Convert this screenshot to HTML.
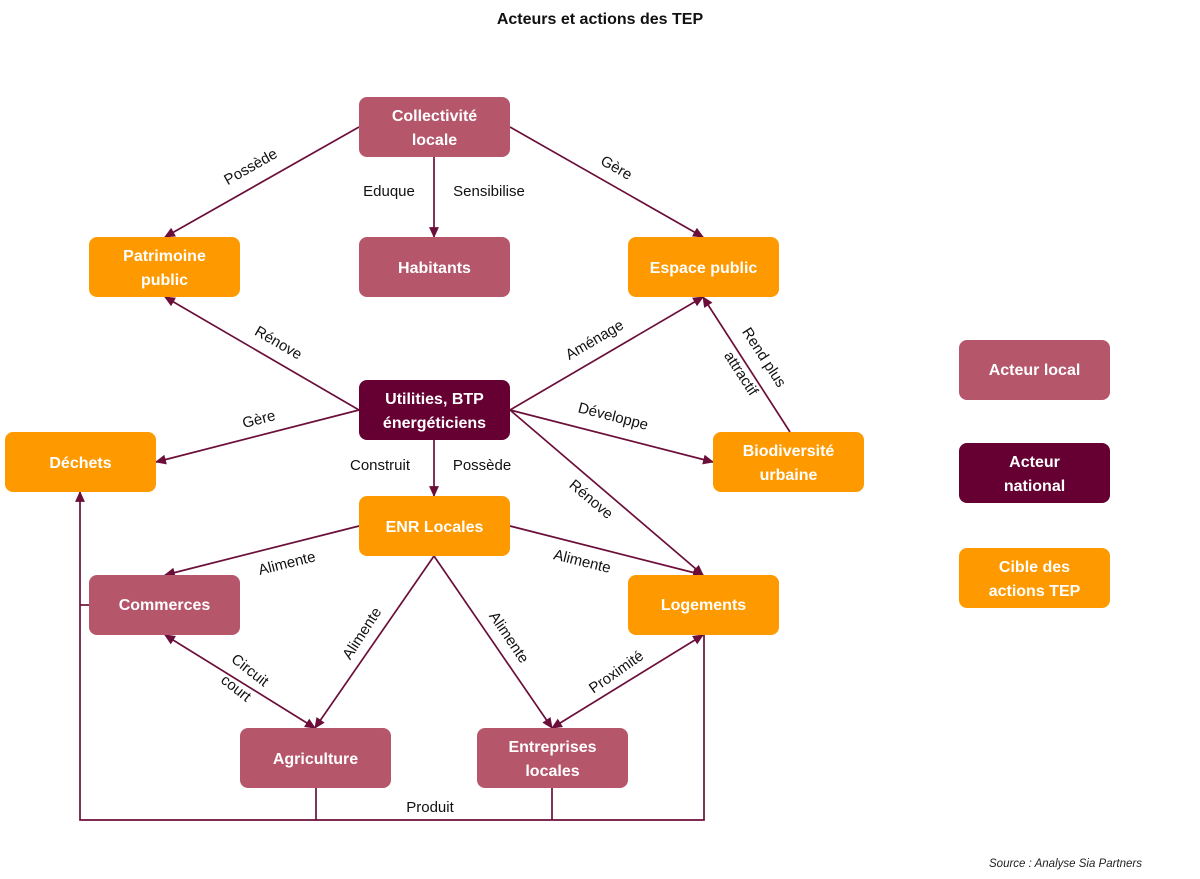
<!DOCTYPE html>
<html><head><meta charset="utf-8"><style>
html,body{margin:0;padding:0;background:#fff;}
svg{display:block;}
text{font-family:"Liberation Sans",sans-serif;}
.b{fill:#fff;font-weight:bold;font-size:16px;text-anchor:middle;}
.l{fill:#111;font-size:15px;text-anchor:middle;}
.e{stroke:#6b0f3a;stroke-width:1.7;fill:none;}
</style></head><body>
<svg width="1200" height="879" viewBox="0 0 1200 879" xmlns="http://www.w3.org/2000/svg">
<defs>
<marker id="a" viewBox="0 0 10 10" refX="9" refY="5" markerWidth="11" markerHeight="11" orient="auto-start-reverse" markerUnits="userSpaceOnUse"><path d="M0,0.5L10,5L0,9.5z" fill="#6b0f3a"/></marker>
</defs>
<text x="600" y="24" style="font-weight:bold;font-size:16px;text-anchor:middle;fill:#111">Acteurs et actions des TEP</text>

<g class="e">
<line x1="359" y1="127" x2="165" y2="237" marker-end="url(#a)"/>
<line x1="510" y1="127" x2="703" y2="237" marker-end="url(#a)"/>
<line x1="434" y1="157" x2="434" y2="237" marker-end="url(#a)"/>
<line x1="359" y1="410" x2="165" y2="297" marker-end="url(#a)"/>
<line x1="359" y1="410" x2="156" y2="462" marker-end="url(#a)"/>
<line x1="510" y1="410" x2="703" y2="297" marker-end="url(#a)"/>
<line x1="510" y1="410" x2="713" y2="462" marker-end="url(#a)"/>
<line x1="510" y1="410" x2="703" y2="575" marker-end="url(#a)"/>
<line x1="434" y1="440" x2="434" y2="496" marker-end="url(#a)"/>
<line x1="790" y1="432" x2="703" y2="297" marker-end="url(#a)"/>
<line x1="359" y1="526" x2="165" y2="575" marker-end="url(#a)"/>
<line x1="510" y1="526" x2="703" y2="575" marker-end="url(#a)"/>
<line x1="434" y1="556" x2="315" y2="728" marker-end="url(#a)"/>
<line x1="434" y1="556" x2="552" y2="728" marker-end="url(#a)"/>
<line x1="165" y1="635" x2="315" y2="728" marker-start="url(#a)" marker-end="url(#a)"/>
<line x1="703" y1="635" x2="552" y2="728" marker-start="url(#a)" marker-end="url(#a)"/>
<polyline points="704,635 704,820 80,820 80,492" marker-end="url(#a)"/>
<line x1="80" y1="605" x2="89" y2="605"/>
<line x1="316" y1="788" x2="316" y2="820"/>
<line x1="552" y1="788" x2="552" y2="820"/>
</g>

<g>
<rect x="359" y="97" width="151" height="60" rx="8" fill="#b5566b"/>
<text class="b" x="434.5" y="121">Collectivité</text><text class="b" x="434.5" y="145">locale</text>
<rect x="359" y="237" width="151" height="60" rx="8" fill="#b5566b"/>
<text class="b" x="434.5" y="273">Habitants</text>
<rect x="89" y="237" width="151" height="60" rx="8" fill="#fe9a00"/>
<text class="b" x="164.5" y="261">Patrimoine</text><text class="b" x="164.5" y="285">public</text>
<rect x="628" y="237" width="151" height="60" rx="8" fill="#fe9a00"/>
<text class="b" x="703.5" y="273">Espace public</text>
<rect x="359" y="380" width="151" height="60" rx="8" fill="#660033"/>
<text class="b" x="434.5" y="404">Utilities, BTP</text><text class="b" x="434.5" y="428">énergéticiens</text>
<rect x="5" y="432" width="151" height="60" rx="8" fill="#fe9a00"/>
<text class="b" x="80.5" y="468">Déchets</text>
<rect x="713" y="432" width="151" height="60" rx="8" fill="#fe9a00"/>
<text class="b" x="788.5" y="456">Biodiversité</text><text class="b" x="788.5" y="480">urbaine</text>
<rect x="359" y="496" width="151" height="60" rx="8" fill="#fe9a00"/>
<text class="b" x="434.5" y="532">ENR Locales</text>
<rect x="89" y="575" width="151" height="60" rx="8" fill="#b5566b"/>
<text class="b" x="164.5" y="610">Commerces</text>
<rect x="628" y="575" width="151" height="60" rx="8" fill="#fe9a00"/>
<text class="b" x="703.5" y="610">Logements</text>
<rect x="240" y="728" width="151" height="60" rx="8" fill="#b5566b"/>
<text class="b" x="315.5" y="764">Agriculture</text>
<rect x="477" y="728" width="151" height="60" rx="8" fill="#b5566b"/>
<text class="b" x="552.5" y="752">Entreprises</text><text class="b" x="552.5" y="776">locales</text>
<rect x="959" y="340" width="151" height="60" rx="8" fill="#b5566b"/>
<text class="b" x="1034.5" y="375">Acteur local</text>
<rect x="959" y="443" width="151" height="60" rx="8" fill="#660033"/>
<text class="b" x="1034.5" y="467">Acteur</text><text class="b" x="1034.5" y="491">national</text>
<rect x="959" y="548" width="151" height="60" rx="8" fill="#fe9a00"/>
<text class="b" x="1034.5" y="572">Cible des</text><text class="b" x="1034.5" y="596">actions TEP</text>
</g>

<text class="l" transform="translate(253,171) rotate(-29.6)">Possède</text>
<text class="l" transform="translate(614,172) rotate(29.7)">Gère</text>
<text class="l" x="389" y="196">Eduque</text>
<text class="l" x="489" y="196">Sensibilise</text>
<text class="l" transform="translate(276,347) rotate(30)">Rénove</text>
<text class="l" transform="translate(260,424) rotate(-14.4)">Gère</text>
<text class="l" transform="translate(597,344) rotate(-30.3)">Aménage</text>
<text class="l" transform="translate(612,421) rotate(14.4)">Développe</text>
<text class="l" transform="translate(588,503) rotate(40)">Rénove</text>
<text class="l" transform="translate(760,360) rotate(57)">Rend plus</text>
<text class="l" transform="translate(737,376) rotate(57)">attractif</text>
<text class="l" x="380" y="470">Construit</text>
<text class="l" x="482" y="470">Possède</text>
<text class="l" transform="translate(288,568) rotate(-14)">Alimente</text>
<text class="l" transform="translate(581,566) rotate(14)">Alimente</text>
<text class="l" transform="translate(366,636) rotate(-57)">Alimente</text>
<text class="l" transform="translate(505,640) rotate(56)">Alimente</text>
<text class="l" transform="translate(247,674) rotate(38)">Circuit</text>
<text class="l" transform="translate(233,692) rotate(38)">court</text>
<text class="l" transform="translate(619,676) rotate(-35)">Proximité</text>
<text class="l" x="430" y="812">Produit</text>
<text x="1142" y="867" style="font-size:11.5px;font-style:italic;text-anchor:end;fill:#222">Source : Analyse Sia Partners</text>
</svg>
</body></html>
